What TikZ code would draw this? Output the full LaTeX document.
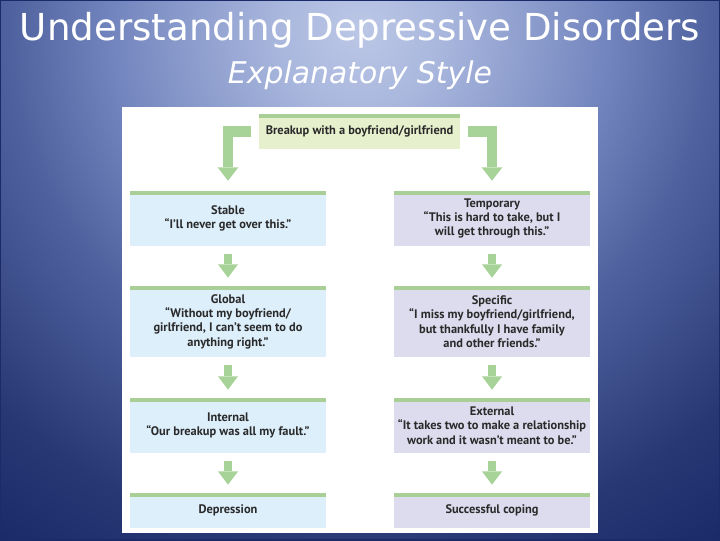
\documentclass[tikz,border=0pt]{standalone}
\usepackage{fontspec}
\setmainfont{PT Sans}
\newfontfamily\titlefont{DejaVu Sans}
\usetikzlibrary{arrows.meta}
\definecolor{bglight}{HTML}{BCC7E6}
\definecolor{bgA}{HTML}{AAB8DE}
\definecolor{bgB}{HTML}{7385BE}
\definecolor{bgC}{HTML}{4F629F}
\definecolor{bgD}{HTML}{283875}
\definecolor{bgdark}{HTML}{1B2A69}
\definecolor{bargreen}{HTML}{A9CF96}
\definecolor{arrgreen}{HTML}{A8D398}
\definecolor{topfill}{HTML}{E7F0CD}
\definecolor{leftfill}{HTML}{DDEFFB}
\definecolor{rightfill}{HTML}{DCDCEE}
\definecolor{txt}{HTML}{2A2A2A}
\pgfdeclareradialshading{bgshade}{\pgfpoint{0bp}{0bp}}{%
  color(0bp)=(bglight); color(3bp)=(bgA); color(9.5bp)=(bgB);
  color(13.5bp)=(bgC); color(20bp)=(bgD); color(23.8bp)=(bgdark); color(50bp)=(bgdark)}
\tikzset{
  box/.style={rectangle, inner sep=0pt, align=center, text=txt,
    font=\bfseries\fontsize{9.3}{10.8}\selectfont,
    path picture={\fill[bargreen] (path picture bounding box.north west)
      rectangle ([yshift=-3pt]path picture bounding box.north east);}},
  colbox/.style={box, minimum width=147pt},
  leftbox/.style={colbox, fill=leftfill},
  rightbox/.style={colbox, fill=rightfill},
  downarr/.style={draw=arrgreen, line width=6.4pt,
    -{Triangle[width=15pt,length=10pt,line width=0pt,fill=arrgreen]},
    shorten <=6pt, shorten >=6pt},
  larr/.style={draw=arrgreen, line width=7.9pt, line join=miter,
    -{Triangle[width=15.5pt,length=10pt,line width=0pt,fill=arrgreen]},
    shorten <=6pt, shorten >=7.5pt},
  titletext/.style={text=white, inner sep=0pt, anchor=base}
}
\begin{document}
\begin{tikzpicture}[x=0.75pt,y=-0.75pt]
\useasboundingbox (0,0) rectangle (720,540);
\begin{scope}
\clip (0,0) rectangle (720,540);
\shade[shading=bgshade] (360,30) circle (650);
\end{scope}
\draw[bgdark, line width=1.5pt] (0,0) rectangle (720,540);
\node[titletext] (title) at (360,40) {\resizebox{510pt}{!}{\titlefont Understanding Depressive Disorders}};
\node[titletext] (subtitle) at (360,83) {\resizebox{198pt}{!}{\titlefont\itshape Explanatory Style}};
\fill[white] (122,107) rectangle (598,533);
\node[box, fill=topfill, minimum width=150.75pt, minimum height=26.25pt] (top) at (359.5,131.5) {Breakup with a boyfriend/girlfriend};
\node[leftbox, minimum height=41.25pt] (stable) at (228,218.5) {Stable\\“I’ll never get over this.”};
\node[leftbox, minimum height=53.25pt] (global) at (228,321.5) {Global\\“Without my boyfriend/\\girlfriend, I can’t seem to do\\anything right.”};
\node[leftbox, minimum height=41.25pt] (internal) at (228,425.5) {Internal\\“Our breakup was all my fault.”};
\node[leftbox, minimum height=26.25pt] (depression) at (228,510.5) {Depression};
\node[rightbox, minimum height=41.25pt] (temporary) at (492,218.5) {Temporary\\“This is hard to take, but I\\will get through this.”};
\node[rightbox, minimum height=53.25pt] (specific) at (492,321.5) {Specific\\“I miss my boyfriend/girlfriend,\\but thankfully I have family\\and other friends.”};
\node[rightbox, minimum height=41.25pt] (external) at (492,425.5) {External\\“It takes two to make a relationship\\work and it wasn’t meant to be.”};
\node[rightbox, minimum height=26.25pt] (coping) at (492,510.5) {Successful coping};
\draw[larr] (top.west) -| (stable.north);
\draw[larr] (top.east) -| (temporary.north);
\draw[downarr] (stable) -- (global);
\draw[downarr] (global) -- (internal);
\draw[downarr] (internal) -- (depression);
\draw[downarr] (temporary) -- (specific);
\draw[downarr] (specific) -- (external);
\draw[downarr] (external) -- (coping);
\end{tikzpicture}
\end{document}
